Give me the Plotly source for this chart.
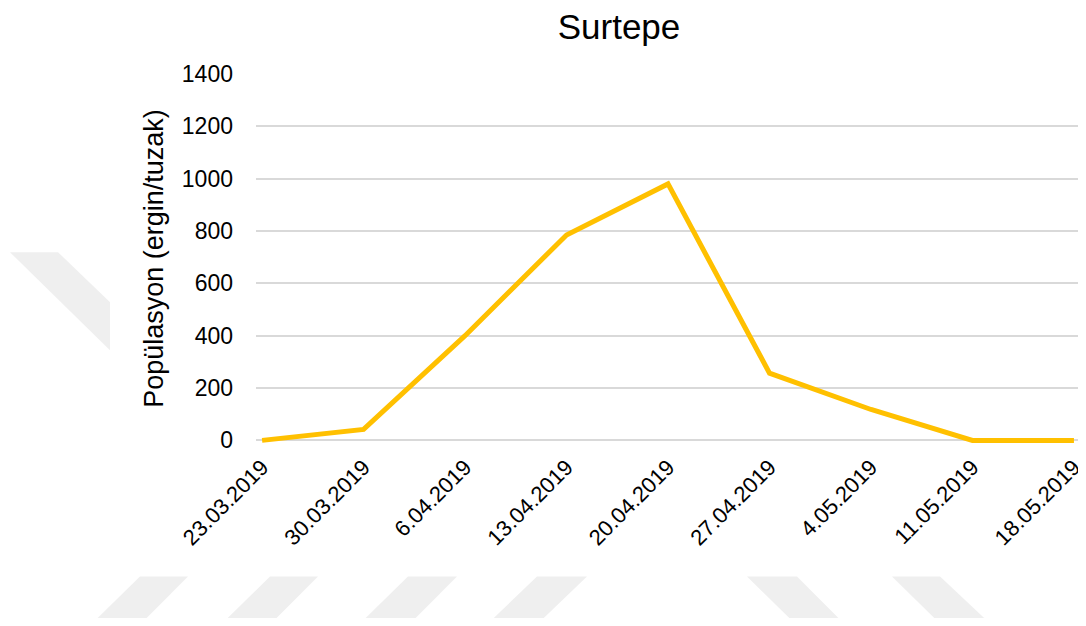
import plotly.graph_objects as go

# ---- data ----
dates = ["23.03.2019", "30.03.2019", "6.04.2019", "13.04.2019", "20.04.2019",
         "27.04.2019", "4.05.2019", "11.05.2019", "18.05.2019"]
population = [0, 42, 400, 785, 980, 257, 118, 0, 0]
y_ticks = [0, 200, 400, 600, 800, 1000, 1200, 1400]

title_text = "Surtepe"
y_title = "Popülasyon (ergin/tuzak)"

# the page body has an 8px default margin; keep the whole figure inside the
# visible part of the 1086x626 window
OFF = 8
W, H = 1086 - 2 * OFF, 626 - 2 * OFF
PLOT_BOTTOM = 442.6  # window pixel of the plot area's lower edge
ML, MR, MT = 256 - OFF, 0, 74 - OFF
MB = H - (PLOT_BOTTOM - OFF)

FONT = "Liberation Sans, Arial, sans-serif"

fig = go.Figure()
fig.add_trace(go.Scatter(
    x=list(range(len(dates))), y=population, mode="lines",
    line=dict(color="#FFC000", width=5, shape="linear"),
    hoverinfo="x+y", showlegend=False,
))

# faint background watermark bands (decoration, window pixel -> paper coords)
pw = W - ML - MR
ph = H - MT - MB


def px2paper(px, py):
    fx, fy = px - OFF, py - OFF
    return (fx - ML) / pw, (H - MB - fy) / ph


bands = [
    [(10, 252), (58, 252), (110, 302), (110, 350)],
    [(140, 576), (188, 576), (143, 621), (94, 621)],
    [(270, 576), (318, 576), (273, 621), (224, 621)],
    [(408, 576), (457, 576), (412, 621), (362, 621)],
    [(537, 576), (587, 576), (540, 621), (490, 621)],
    [(747, 576), (797, 576), (842, 621), (793, 621)],
    [(892, 576), (940, 576), (988, 621), (938, 621)],
]
shapes = []
for b in bands:
    pts = [px2paper(x, y) for x, y in b]
    path = "M " + " L ".join(f"{x:.5f},{y:.5f}" for x, y in pts) + " Z"
    shapes.append(dict(type="path", path=path, xref="paper", yref="paper",
                       fillcolor="#efefef", line=dict(width=0), layer="below"))

fig.update_layout(
    width=W, height=H,
    margin=dict(l=ML, r=MR, t=MT, b=MB, pad=0, autoexpand=False),
    paper_bgcolor="white", plot_bgcolor="rgba(0,0,0,0)",
    font=dict(family=FONT, color="#000000"),
    title=dict(text=title_text, x=(619 - OFF) / W, xref="container", xanchor="center",
               y=1.0 - 6 / H, yref="container", yanchor="top",
               font=dict(size=35, family=FONT, color="#000000")),
    shapes=shapes,
    xaxis=dict(
        tickmode="array", tickvals=list(range(len(dates))), ticktext=dates,
        tickangle=-45, tickfont=dict(size=22, family=FONT, color="#000000"),
        range=[-0.06, len(dates) - 1 + 0.04],
        showgrid=False, zeroline=False, showline=False, ticks="",
        ticklabelstandoff=6, ticklabeloverflow="allow", automargin=False,
    ),
    yaxis=dict(
        tickmode="array", tickvals=y_ticks, range=[-10, 1400],
        tickfont=dict(size=23, family=FONT, color="#000000"),
        showgrid=True, gridcolor="#d9d9d9", gridwidth=1.5,
        zeroline=False, showline=False, ticks="",
        ticklabelstandoff=22, automargin=False,
        title=dict(text=y_title, standoff=10,
                   font=dict(size=27, family=FONT, color="#000000")),
    ),
)

fig.write_html("out.html", config={"displayModeBar": False})
